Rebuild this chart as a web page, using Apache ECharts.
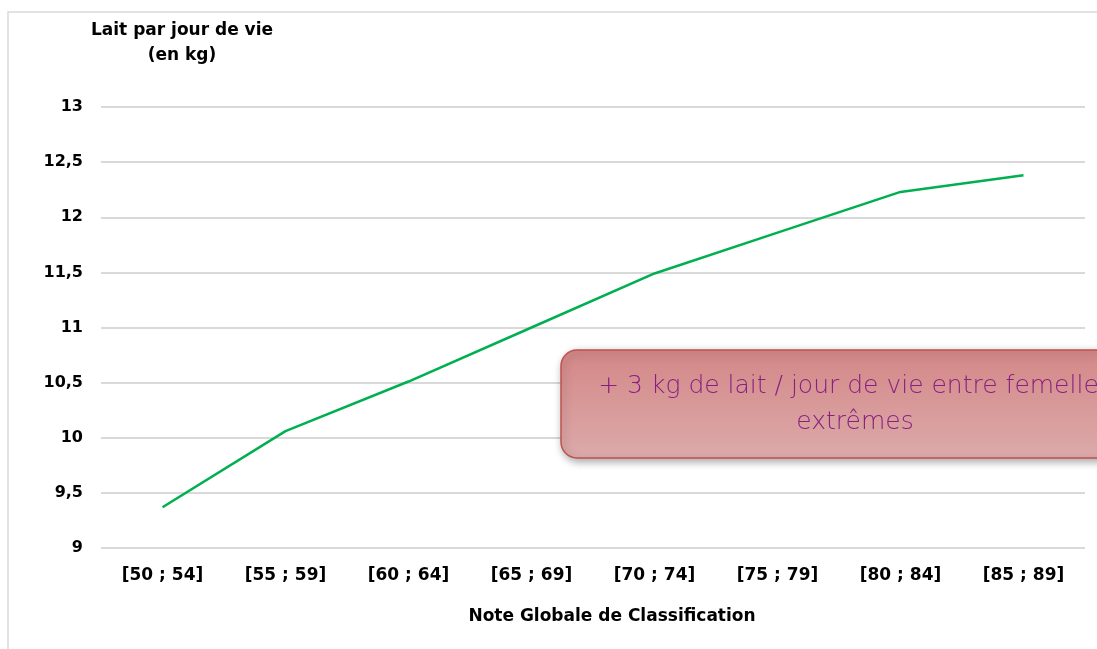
<!DOCTYPE html>
<html>
<head>
<meta charset="utf-8">
<script src="https://cdn.jsdelivr.net/npm/echarts@6/dist/echarts.min.js"></script>
<style>
  html, body { margin: 0; padding: 0; background: #fff; }
  #chart { width: 1097px; height: 649px; }
</style>
</head>
<body>
<div id="chart"></div>
<script>
// classes de note globale
var categories = ['[50 ; 54]', '[55 ; 59]', '[60 ; 64]', '[65 ; 69]', '[70 ; 74]', '[75 ; 79]', '[80 ; 84]', '[85 ; 89]'];
// lait par jour de vie (kg)
var laitParJour = [9.37, 10.06, 10.51, 11.0, 11.49, 11.86, 12.23, 12.38];
var yTitle = 'Lait par jour de vie\n(en kg)';
var xTitle = 'Note Globale de Classification';
var noteText = '+ 3 kg de lait / jour de vie entre femelles\nextrêmes';

var labelFont = 'DejaVu Sans';

var myChart = echarts.init(document.getElementById('chart'));

var option = {
  animation: false,
  grid: { left: 101, right: 12, top: 107, bottom: 101 },
  xAxis: {
    type: 'category',
    data: categories,
    boundaryGap: true,
    axisLine: { show: false },
    axisTick: { show: false },
    axisLabel: { color: '#000', fontFamily: labelFont, fontWeight: 'bold', fontSize: 17, margin: 19 },
    name: xTitle,
    nameLocation: 'middle',
    nameGap: 60,
    nameTextStyle: { color: '#000', fontFamily: labelFont, fontWeight: 'bold', fontSize: 17, padding: [0, 0, 0, 38] }
  },
  yAxis: {
    type: 'value',
    min: 9,
    max: 13,
    interval: 0.5,
    axisLine: { show: false },
    axisTick: { show: false },
    axisLabel: {
      color: '#000', fontFamily: labelFont, fontWeight: 'bold', fontSize: 16, margin: 18,
      formatter: function (v) { return String(v).replace('.', ','); }
    },
    splitLine: { lineStyle: { color: '#d9d9d9', width: 2 } }
  },
  series: [{
    type: 'line',
    data: laitParJour,
    symbol: 'none',
    lineStyle: { color: '#00b050', width: 2.5 },
    z: 3
  }],
  graphic: [
    {
      // cadre du graphique
      type: 'polyline',
      shape: { points: [[8, 649], [8, 12], [1097, 12]] },
      style: { stroke: '#d9d9d9', lineWidth: 1.5, fill: null },
      silent: true
    },
    {
      type: 'text',
      x: 182, y: 18,
      style: {
        text: yTitle, fill: '#000', font: 'bold 17px "DejaVu Sans"', align: 'center',
        lineHeight: 25
      }
    },
    {
      type: 'rect',
      shape: { x: 561, y: 350, width: 588, height: 108, r: 16 },
      style: {
        fill: new echarts.graphic.LinearGradient(0, 0, 0, 1, [
          { offset: 0, color: '#d48787' },
          { offset: 1, color: '#dcaaaa' }
        ]),
        stroke: '#c0504d', lineWidth: 1.5,
        shadowBlur: 8, shadowOffsetX: 2, shadowOffsetY: 3, shadowColor: 'rgba(0,0,0,0.35)'
      },
      z: 10
    },
    {
      type: 'text',
      x: 855, y: 368,
      style: {
        text: noteText, fill: '#8a1f80', font: '300 25px "DejaVu Sans"', align: 'center',
        lineHeight: 36
      },
      z: 11
    }
  ]
};

myChart.setOption(option);
</script>
</body>
</html>
